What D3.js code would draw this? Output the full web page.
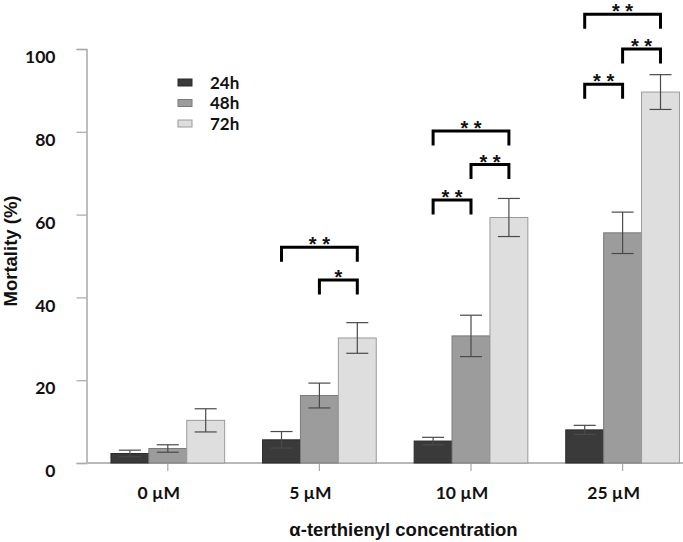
<!DOCTYPE html>
<html>
<head>
<meta charset="utf-8">
<script src="https://cdn.jsdelivr.net/npm/d3@7"></script>
<style>
  html, body { margin: 0; padding: 0; background: #fff; }
  svg { display: block; }
</style>
</head>
<body>
<script>
// ---- data ----
const categories = ["0 µM", "5 µM", "10 µM", "25 µM"];
const series = ["24h", "48h", "72h"];
const mean24 = [2.3, 5.6, 5.3, 8.0];
const mean48 = [3.5, 16.3, 30.7, 55.6];
const mean72 = [10.3, 30.2, 59.3, 89.6];
const err24 = [0.8, 2.0, 0.9, 1.1];
const err48 = [0.9, 3.0, 5.0, 5.0];
const err72 = [2.8, 3.7, 4.6, 4.2];
const yTicks = [0, 20, 40, 60, 80, 100];
const bracketCats = ["5 µM", "5 µM", "10 µM", "10 µM", "10 µM", "25 µM", "25 µM", "25 µM"];
const bracketFrom = ["24h", "48h", "24h", "48h", "24h", "24h", "48h", "24h"];
const bracketTo   = ["72h", "72h", "72h", "72h", "48h", "72h", "72h", "48h"];
const bracketY    = [52.1, 44.2, 80.2, 72.1, 63.5, 108.4, 100.0, 91.5];
const bracketLbl  = ["* *", "*", "* *", "* *", "* *", "* *", "* *", "* *"];

const W = 683, H = 542;
const fills = { "24h": "#3a3a3a", "48h": "#9c9c9c", "72h": "#dedede" };
const strokes = { "24h": "#2a2a2a", "48h": "#7a7a7a", "72h": "#9a9a9a" };
const means = { "24h": mean24, "48h": mean48, "72h": mean72 };
const errs = { "24h": err24, "48h": err48, "72h": err72 };

const svg = d3.select("body").append("svg").attr("width", W).attr("height", H);

const y = d3.scaleLinear().domain([0, 100]).range([463, 49]);
const x0 = d3.scaleBand().domain(categories).range([92, 698.4]).paddingInner(0.25).paddingOuter(0.125);
const x1 = d3.scaleBand().domain(series).range([0, x0.bandwidth()]);

const labelFont = "Lato, 'Open Sans', sans-serif";
const titleFont = "'Liberation Sans', Arial, sans-serif";

// Y axis
const yAxis = d3.axisLeft(y).tickValues(yTicks).tickSize(10).tickPadding(21);
const gy = svg.append("g").attr("transform", "translate(86.5,0)").call(yAxis);
gy.select(".domain").attr("stroke", "#a8a8a8").attr("stroke-width", 1.5);
gy.selectAll(".tick line").attr("stroke", "#a8a8a8").attr("stroke-width", 1.2);
gy.selectAll(".tick text")
  .attr("font-family", labelFont).attr("font-weight", 700).attr("font-size", 17.5)
  .attr("fill", "#111").attr("dy", "0.78em");

// Baseline
svg.append("line").attr("x1", 86).attr("x2", W).attr("y1", y(0)).attr("y2", y(0))
  .attr("stroke", "#b8b8b8").attr("stroke-width", 2);

// X axis ticks & labels
const xAxis = d3.axisBottom(x0).tickSize(8).tickPadding(14);
const gx = svg.append("g").attr("transform", `translate(0,${y(0)})`).call(xAxis);
gx.select(".domain").remove();
gx.selectAll(".tick line").attr("stroke", "#a8a8a8").attr("stroke-width", 1.2);
gx.selectAll(".tick text")
  .attr("font-family", labelFont).attr("font-weight", 700).attr("font-size", 17.5)
  .attr("fill", "#111").attr("dx", -9).attr("dy", "0.78em");

// Bars
const groups = svg.append("g").selectAll("g").data(categories).join("g")
  .attr("transform", d => `translate(${x0(d)},0)`);

series.forEach(s => {
  groups.append("rect")
    .attr("x", x1(s)).attr("width", x1.bandwidth())
    .attr("y", (d, i) => y(means[s][i]))
    .attr("height", (d, i) => y(0) - y(means[s][i]))
    .attr("fill", fills[s]).attr("stroke", strokes[s]).attr("stroke-width", 1);
});

// Error bars
const capW = 22;
series.forEach(s => {
  const cx = x1(s) + x1.bandwidth() / 2;
  groups.append("line")
    .attr("x1", cx).attr("x2", cx)
    .attr("y1", (d, i) => y(means[s][i] + errs[s][i]))
    .attr("y2", (d, i) => y(means[s][i] - errs[s][i]))
    .attr("stroke", "#4a4a4a").attr("stroke-width", 1.2);
  groups.append("line")
    .attr("x1", cx - capW / 2).attr("x2", cx + capW / 2)
    .attr("y1", (d, i) => y(means[s][i] + errs[s][i]))
    .attr("y2", (d, i) => y(means[s][i] + errs[s][i]))
    .attr("stroke", "#4a4a4a").attr("stroke-width", 1.2);
  groups.append("line")
    .attr("x1", cx - capW / 2).attr("x2", cx + capW / 2)
    .attr("y1", (d, i) => y(means[s][i] - errs[s][i]))
    .attr("y2", (d, i) => y(means[s][i] - errs[s][i]))
    .attr("stroke", "#4a4a4a").attr("stroke-width", 1.2);
});

// Significance brackets
const legLen = 14.5;
const bg = svg.append("g");
bracketCats.forEach((c, i) => {
  const xa = x0(c) + x1(bracketFrom[i]) + x1.bandwidth() / 2;
  const xb = x0(c) + x1(bracketTo[i]) + x1.bandwidth() / 2;
  const yy = y(bracketY[i]);
  bg.append("path")
    .attr("d", `M${xa},${yy + legLen}V${yy}H${xb}V${yy + legLen}`)
    .attr("fill", "none").attr("stroke", "#000").attr("stroke-width", 3)
    .attr("stroke-linejoin", "miter");
  bg.append("text")
    .attr("x", (xa + xb) / 2).attr("y", yy + 4)
    .attr("text-anchor", "middle")
    .attr("font-family", titleFont).attr("font-size", 20).attr("font-weight", 700)
    .attr("fill", "#111")
    .text(bracketLbl[i]);
});

// Legend
const lg = svg.append("g");
series.forEach((s, i) => {
  const ly = 79 + i * 20.5;
  lg.append("rect").attr("x", 178).attr("y", ly).attr("width", 14).attr("height", 7)
    .attr("fill", fills[s]).attr("stroke", strokes[s]).attr("stroke-width", 1);
  lg.append("text").attr("x", 210).attr("y", ly + 3.5).attr("dy", "0.36em")
    .attr("font-family", labelFont).attr("font-weight", 700).attr("font-size", 17)
    .attr("fill", "#111").text(s);
});

// Axis titles
svg.append("text")
  .attr("transform", "translate(10,251) rotate(-90)")
  .attr("text-anchor", "middle").attr("dy", "0.36em")
  .attr("font-family", titleFont).attr("font-weight", 700).attr("font-size", 18.5)
  .attr("fill", "#111").text("Mortality (%)");

svg.append("text")
  .attr("x", 403.5).attr("y", 536)
  .attr("text-anchor", "middle")
  .attr("font-family", titleFont).attr("font-weight", 700).attr("font-size", 18.5)
  .attr("fill", "#111").text("α-terthienyl concentration");
</script>
</body>
</html>
